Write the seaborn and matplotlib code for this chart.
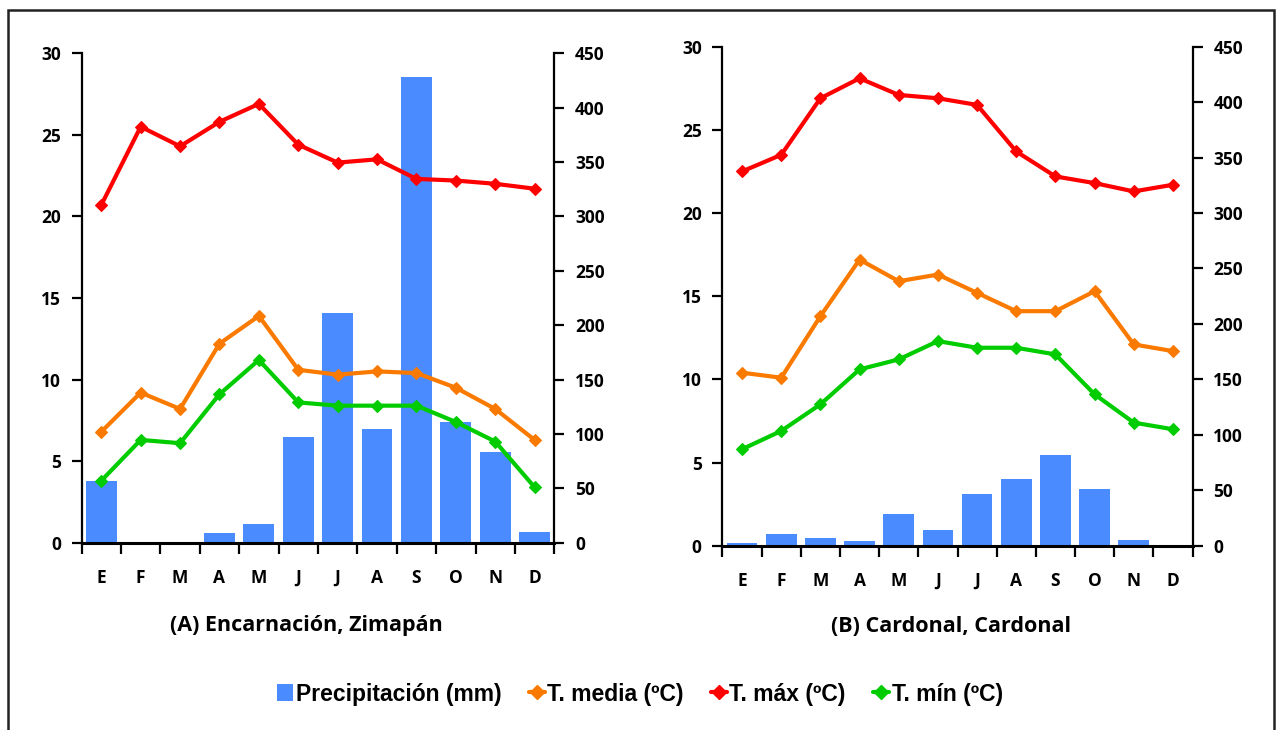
import numpy as np
import pandas as pd
import matplotlib
matplotlib.use("Agg")
import matplotlib.pyplot as plt
from matplotlib.lines import Line2D
from matplotlib.patches import Patch, Rectangle
import seaborn as sns

sns.set_theme(style="white")
plt.rcParams["font.family"] = ["Open Sans", "DejaVu Sans"]
plt.rcParams.update({"text.color": "black", "xtick.color": "black",
                     "ytick.color": "black", "axes.labelcolor": "black"})

meses = ["E", "F", "M", "A", "M", "J", "J", "A", "S", "O", "N", "D"]

# (A) Encarnación, Zimapán
precip_a = [57, 0, 0, 9, 17, 97, 211, 105, 428, 111, 83, 10]
tmedia_a = [6.8, 9.2, 8.2, 12.2, 13.9, 10.6, 10.3, 10.5, 10.4, 9.5, 8.2, 6.3]
tmax_a = [20.7, 25.5, 24.3, 25.8, 26.9, 24.4, 23.3, 23.5, 22.3, 22.2, 22.0, 21.7]
tmin_a = [3.8, 6.3, 6.1, 9.1, 11.2, 8.6, 8.4, 8.4, 8.4, 7.4, 6.2, 3.4]

# (B) Cardonal, Cardonal
precip_b = [2.4, 11, 7, 4, 29, 14, 47, 60, 82, 51, 5, 0]
tmedia_b = [10.4, 10.1, 13.8, 17.2, 15.9, 16.3, 15.2, 14.1, 14.1, 15.3, 12.1, 11.7]
tmax_b = [22.5, 23.5, 26.9, 28.1, 27.1, 26.9, 26.5, 23.7, 22.2, 21.8, 21.3, 21.7]
tmin_b = [5.8, 6.9, 8.5, 10.6, 11.2, 12.3, 11.9, 11.9, 11.5, 9.1, 7.4, 7.0]

titulos = ["(A) Encarnación, Zimapán", "(B) Cardonal, Cardonal"]

C_BAR = "#4a8cff"
C_MEDIA = "#fa7a00"
C_MAX = "#ff0000"
C_MIN = "#00cc00"

fig = plt.figure(figsize=(12.77, 7.30), dpi=100)
fig.patch.set_facecolor("white")

# frame around the whole figure
fig.add_artist(Rectangle((7.5 / 1277, -0.05), 1266 / 1277, 1 - 9.5 / 730 + 0.05,
                         transform=fig.transFigure, fill=False,
                         edgecolor="#222222", linewidth=1.8))

posiciones = [
    [81.6 / 1277, 1 - 542.7 / 730, (554.3 - 81.6) / 1277, (542.7 - 53.3) / 730],
    [722.5 / 1277, 1 - 545.7 / 730, (1192.5 - 722.5) / 1277, (545.7 - 46.7) / 730],
]
titulo_x = [306 / 1277, 951 / 1277]

datos = [
    (precip_a, tmedia_a, tmax_a, tmin_a),
    (precip_b, tmedia_b, tmax_b, tmin_b),
]

tick_font = dict(fontsize=12.5, fontweight="bold", color="black")

for i, (pr, tmed, tmx, tmn) in enumerate(datos):
    df = pd.DataFrame({
        "pos": np.arange(12),
        "precip": pr,
        "tmedia": tmed,
        "tmax": tmx,
        "tmin": tmn,
    })
    ax = fig.add_axes(posiciones[i])
    ax2 = ax.twinx()
    # temperature axis on top of the precipitation bars
    ax.set_zorder(ax2.get_zorder() + 1)
    ax.patch.set_visible(False)

    sns.barplot(data=df, x="pos", y="precip", ax=ax2, color=C_BAR,
                width=0.78, saturation=1, edgecolor="none", errorbar=None)

    for col, c in [("tmedia", C_MEDIA), ("tmax", C_MAX), ("tmin", C_MIN)]:
        sns.lineplot(data=df, x="pos", y=col, ax=ax, color=c, linewidth=3,
                     marker="D", markersize=6.5, markeredgecolor=c,
                     markeredgewidth=0.8)

    for a in (ax, ax2):
        a.set_xlim(-0.5, 11.5)
        a.set_xlabel("")
        a.set_ylabel("")
        a.grid(False)
    ax.set_ylim(0, 30)
    ax2.set_ylim(0, 450)
    ax.set_yticks(np.arange(0, 31, 5))
    ax2.set_yticks(np.arange(0, 451, 50))

    ax.set_xticks(np.arange(-0.5, 12, 1))
    ax.set_xticklabels([])
    ax.set_xticks(np.arange(12), minor=True)
    ax.set_xticklabels(meses, minor=True, **tick_font)
    ax.tick_params(axis="x", which="major", direction="out", length=8,
                   width=1.6, color="black", bottom=True)
    ax.tick_params(axis="x", which="minor", length=0, pad=19)
    ax2.tick_params(axis="x", which="both", bottom=False, labelbottom=False)

    ax.tick_params(axis="y", direction="out", length=7, width=1.6,
                   color="black", labelcolor="black", left=True, pad=8)
    ax2.tick_params(axis="y", direction="out", length=7, width=1.6,
                    color="black", labelcolor="black", right=True, pad=8)
    for lab in ax.get_yticklabels() + ax2.get_yticklabels():
        lab.set_fontsize(12.5)
        lab.set_fontweight("bold")

    for a in (ax, ax2):
        a.spines["top"].set_visible(False)
        for s in ("left", "right"):
            a.spines[s].set_color("black")
            a.spines[s].set_linewidth(1.6)
    ax.spines["right"].set_visible(False)
    ax2.spines["left"].set_visible(False)
    ax.spines["bottom"].set_color("black")
    ax.spines["bottom"].set_linewidth(2.2)
    ax2.spines["bottom"].set_visible(False)
    if ax.get_legend():
        ax.get_legend().remove()

    fig.text(titulo_x[i], 1 - 626 / 730, titulos[i], ha="center", va="center",
             fontsize=15.5, fontweight="bold", color="black")

handles = [
    Patch(facecolor=C_BAR, edgecolor="none"),
    Line2D([0], [0], color=C_MEDIA, lw=3, marker="D", markersize=7),
    Line2D([0], [0], color=C_MAX, lw=3, marker="D", markersize=7),
    Line2D([0], [0], color=C_MIN, lw=3, marker="D", markersize=7),
]
labels = ["Precipitación (mm)", "T. media (ºC)", "T. máx (ºC)", "T. mín (ºC)"]
leg = fig.legend(handles, labels, loc="center", bbox_to_anchor=(640 / 1277, 1 - 694 / 730),
                 ncol=4, frameon=False, handlelength=0.7, handletextpad=0.1,
                 columnspacing=1.2, handleheight=0.8, labelcolor="black",
                 prop=dict(family=["Liberation Sans", "DejaVu Sans"],
                           weight="bold", size=16.5))

fig.savefig("out.png", dpi=100, facecolor="white")
